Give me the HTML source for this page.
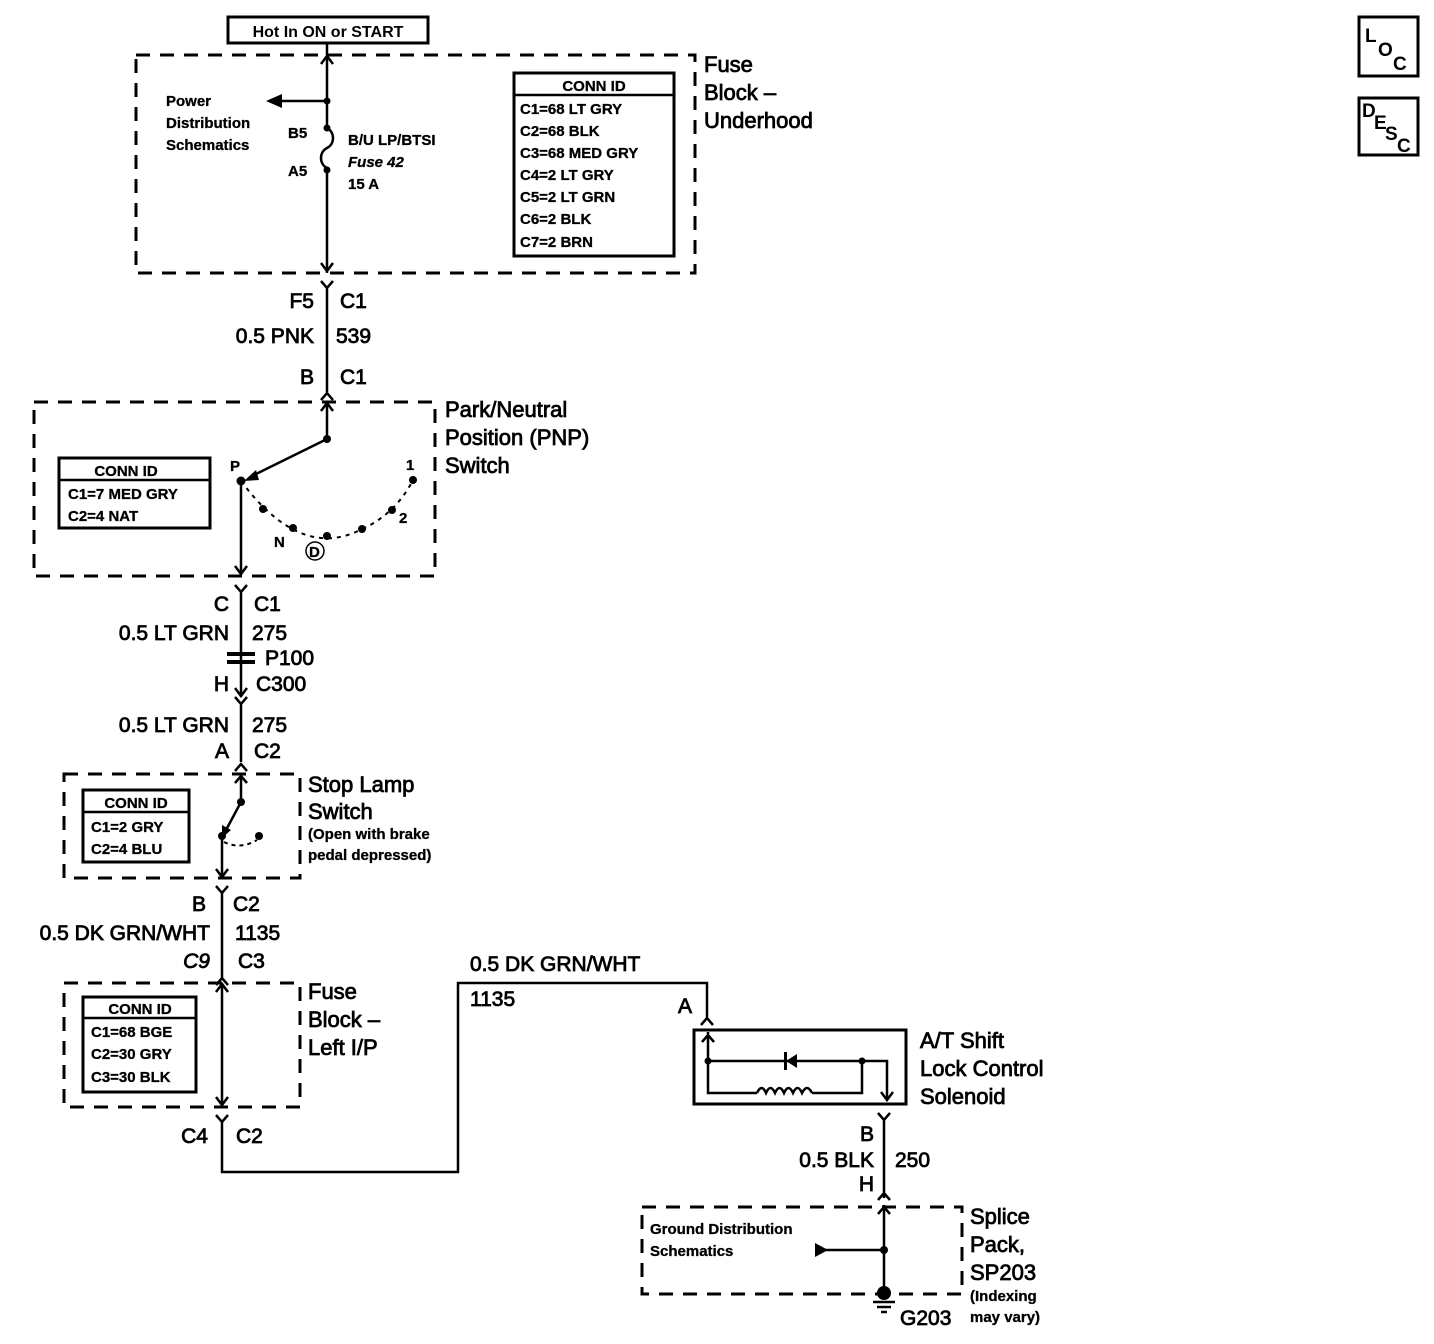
<!DOCTYPE html>
<html><head><meta charset="utf-8"><style>
html,body{margin:0;padding:0;background:#fff;}
svg{display:block;font-family:"Liberation Sans",Arial,sans-serif;}
.w{stroke:#000;stroke-width:2.5;fill:none;}
.d{stroke:#000;stroke-width:3;fill:none;stroke-dasharray:14 10;}
.b{stroke:#000;stroke-width:3;fill:#fff;}
.L{font-size:22px;fill:#000;stroke:#000;stroke-width:0.8;}
.M{font-size:21px;fill:#000;stroke:#000;stroke-width:0.8;}
.S{font-size:15px;font-weight:bold;fill:#000;stroke:#000;stroke-width:0.3;}
.T{font-size:16px;font-weight:bold;fill:#000;}
.G{font-size:19px;font-weight:bold;fill:#000;}
</style></head><body>
<svg width="1434" height="1344" viewBox="0 0 1434 1344" xmlns="http://www.w3.org/2000/svg">
<rect x="228" y="17" width="200" height="26" class="b"/>
<text x="328" y="37" class="T" text-anchor="middle">Hot In ON or START</text>

<rect x="136" y="55" width="559" height="218" class="d"/>
<path class="w" d="M327 43 V128 M327 170 V273"/>
<path class="w" d="M321 64 L327 56 L333 64 M321 263 L327 271 L333 263"/>
<path class="w" d="M327 128 c8 4 8 16 0 20 c-8 4 -8 16 0 20"/>
<circle cx="327" cy="101" r="3.5"/><circle cx="327" cy="128" r="3.5"/><circle cx="327" cy="170" r="3.5"/>
<path class="w" d="M327 101 H280"/><path d="M266 101 L282 94 L282 108 Z"/>
<text x="166" y="106" class="S">Power</text>
<text x="166" y="128" class="S">Distribution</text>
<text x="166" y="150" class="S">Schematics</text>
<text x="288" y="138" class="S">B5</text>
<text x="288" y="176" class="S">A5</text>
<text x="348" y="145" class="S">B/U LP/BTSI</text>
<text x="348" y="167" class="S" font-style="italic">Fuse 42</text>
<text x="348" y="189" class="S">15 A</text>
<rect x="514" y="73" width="160" height="183" class="b"/>
<line x1="514" y1="95" x2="674" y2="95" stroke="#000" stroke-width="2.5"/>
<text x="594" y="91" class="S" text-anchor="middle">CONN ID</text>
<text x="520" y="114" class="S">C1=68 LT GRY</text>
<text x="520" y="136" class="S">C2=68 BLK</text>
<text x="520" y="158" class="S">C3=68 MED GRY</text>
<text x="520" y="180" class="S">C4=2 LT GRY</text>
<text x="520" y="202" class="S">C5=2 LT GRN</text>
<text x="520" y="224" class="S">C6=2 BLK</text>
<text x="520" y="247" class="S">C7=2 BRN</text>
<text x="704" y="72" class="L">Fuse</text>
<text x="704" y="100" class="L">Block –</text>
<text x="704" y="128" class="L">Underhood</text>

<path class="w" d="M321 281 L327 288 L333 281 M327 288 V392 M321 400 L327 393 L333 400"/>
<text x="314" y="308" class="M" text-anchor="end">F5</text>
<text x="340" y="308" class="M">C1</text>
<text x="314" y="343" class="M" text-anchor="end">0.5 PNK</text>
<text x="336" y="343" class="M">539</text>
<text x="314" y="384" class="M" text-anchor="end">B</text>
<text x="340" y="384" class="M">C1</text>

<rect x="34" y="402" width="401" height="174" class="d"/>
<path class="w" d="M327 402 V439 M321 411 L327 403 L333 411"/>
<circle cx="327" cy="439" r="4"/>
<path class="w" d="M327 439 L252 476"/><path d="M244 481 L256 470 L259 480 Z"/>
<circle cx="241" cy="481" r="4.5"/>
<path class="w" d="M241 481 V575 M235 566 L241 574 L247 566"/>
<path fill="none" stroke="#000" stroke-width="2" stroke-dasharray="4 5" d="M241 481 Q300 560 360 530 Q395 515 413 480"/>
<circle cx="263" cy="509" r="4"/><circle cx="293" cy="528" r="4"/><circle cx="327" cy="536" r="4"/><circle cx="362" cy="529" r="4"/><circle cx="392" cy="510" r="4"/><circle cx="413" cy="480" r="4"/>
<text x="230" y="471" class="S">P</text>
<text x="406" y="470" class="S">1</text>
<text x="399" y="523" class="S">2</text>
<text x="274" y="547" class="S">N</text>
<text x="309" y="557" class="S">D</text><circle cx="315" cy="551" r="9" fill="none" stroke="#000" stroke-width="1.5"/>
<rect x="59" y="458" width="151" height="70" class="b"/>
<line x1="59" y1="480" x2="210" y2="480" stroke="#000" stroke-width="2.5"/>
<text x="126" y="476" class="S" text-anchor="middle">CONN ID</text>
<text x="68" y="499" class="S">C1=7 MED GRY</text>
<text x="68" y="521" class="S">C2=4 NAT</text>
<text x="445" y="417" class="L">Park/Neutral</text>
<text x="445" y="445" class="L">Position (PNP)</text>
<text x="445" y="473" class="L">Switch</text>

<path class="w" d="M235 585 L241 592 L247 585 M241 592 V695 M235 688 L241 696 L247 688 M235 697 L241 704 L247 697 M241 704 V762 M235 771 L241 764 L247 771"/>
<rect x="227" y="652" width="28" height="4" fill="#000"/><rect x="227" y="660" width="28" height="4" fill="#000"/>
<text x="229" y="611" class="M" text-anchor="end">C</text>
<text x="254" y="611" class="M">C1</text>
<text x="229" y="640" class="M" text-anchor="end">0.5 LT GRN</text>
<text x="252" y="640" class="M">275</text>
<text x="265" y="665" class="M">P100</text>
<text x="229" y="691" class="M" text-anchor="end">H</text>
<text x="256" y="691" class="M">C300</text>
<text x="229" y="732" class="M" text-anchor="end">0.5 LT GRN</text>
<text x="252" y="732" class="M">275</text>
<text x="229" y="758" class="M" text-anchor="end">A</text>
<text x="254" y="758" class="M">C2</text>

<rect x="64" y="774" width="236" height="104" class="d"/>
<path class="w" d="M241 774 V802 M235 783 L241 776 L247 783"/>
<circle cx="241" cy="802" r="4"/>
<path class="w" d="M241 802 L226 830"/><path d="M222 838 L222 825 L231 830 Z"/>
<circle cx="222" cy="836" r="4"/><circle cx="259" cy="836" r="4"/>
<path fill="none" stroke="#000" stroke-width="2" stroke-dasharray="4 4" d="M224 842 Q240 850 257 840"/>
<path class="w" d="M222 836 V877 M216 869 L222 877 L228 869"/>
<rect x="83" y="790" width="106" height="72" class="b"/>
<line x1="83" y1="812" x2="189" y2="812" stroke="#000" stroke-width="2.5"/>
<text x="136" y="808" class="S" text-anchor="middle">CONN ID</text>
<text x="91" y="832" class="S">C1=2 GRY</text>
<text x="91" y="854" class="S">C2=4 BLU</text>
<text x="308" y="792" class="L">Stop Lamp</text>
<text x="308" y="819" class="L">Switch</text>
<text x="308" y="839" class="S" font-size="14">(Open with brake</text>
<text x="308" y="860" class="S" font-size="14">pedal depressed)</text>

<path class="w" d="M216 886 L222 893 L228 886 M222 893 V978 M216 985 L222 978 L228 985"/>
<text x="206" y="911" class="M" text-anchor="end">B</text>
<text x="233" y="911" class="M">C2</text>
<text x="210" y="940" class="M" text-anchor="end">0.5 DK GRN/WHT</text>
<text x="235" y="940" class="M">1135</text>
<text x="210" y="968" class="M" text-anchor="end" font-style="italic">C9</text>
<text x="238" y="968" class="M">C3</text>

<rect x="64" y="983" width="236" height="124" class="d"/>
<path class="w" d="M222 983 V1106 M216 992 L222 984 L228 992 M216 1097 L222 1105 L228 1097"/>
<rect x="83" y="997" width="113" height="95" class="b"/>
<line x1="83" y1="1018" x2="196" y2="1018" stroke="#000" stroke-width="2.5"/>
<text x="140" y="1014" class="S" text-anchor="middle">CONN ID</text>
<text x="91" y="1037" class="S">C1=68 BGE</text>
<text x="91" y="1059" class="S">C2=30 GRY</text>
<text x="91" y="1082" class="S">C3=30 BLK</text>
<text x="308" y="999" class="L">Fuse</text>
<text x="308" y="1027" class="L">Block –</text>
<text x="308" y="1055" class="L">Left I/P</text>
<path class="w" d="M216 1115 L222 1122 L228 1115 M222 1122 V1172 H458 V983 H707 V1018 M701 1025 L707 1018 L713 1025"/>
<text x="208" y="1143" class="M" text-anchor="end">C4</text>
<text x="236" y="1143" class="M">C2</text>
<text x="470" y="971" class="M">0.5 DK GRN/WHT</text>
<text x="470" y="1006" class="M">1135</text>
<text x="692" y="1013" class="M" text-anchor="end">A</text>

<rect x="694" y="1030" width="212" height="74" fill="none" stroke="#000" stroke-width="3"/>
<path class="w" d="M708 1032 V1093 H757 M812 1093 H862 V1061 M708 1061 H887 V1100 M702 1042 L708 1035 L714 1042 M881 1092 L887 1100 L893 1092"/>
<path class="w" d="M757 1093 q4.5 -10 9 0 q4.5 -10 9 0 q4.5 -10 9 0 q4.5 -10 9 0 q4.5 -10 9 0 q5 -10 10 0"/>
<path d="M786 1061 L797 1054 L797 1068 Z"/><rect x="784" y="1052" width="3" height="18"/>
<circle cx="708" cy="1061" r="3.5"/><circle cx="862" cy="1061" r="3.5"/>
<text x="920" y="1048" class="L">A/T Shift</text>
<text x="920" y="1076" class="L">Lock Control</text>
<text x="920" y="1104" class="L">Solenoid</text>

<path class="w" d="M878 1113 L884 1120 L890 1113 M884 1120 V1198 M878 1200 L884 1193 L890 1200"/>
<text x="874" y="1141" class="M" text-anchor="end">B</text>
<text x="874" y="1167" class="M" text-anchor="end">0.5 BLK</text>
<text x="895" y="1167" class="M">250</text>
<text x="874" y="1191" class="M" text-anchor="end">H</text>

<rect x="642" y="1207" width="320" height="87" class="d"/>
<path class="w" d="M884 1205 V1292 M878 1214 L884 1207 L890 1214 M825 1250 H884"/>
<path d="M815 1243 L828 1250 L815 1257 Z"/>
<circle cx="884" cy="1250" r="4"/>
<circle cx="884" cy="1293" r="7"/>
<path class="w" d="M873 1302 H895 M877 1307 H891 M881 1312 H887"/>
<text x="650" y="1234" class="S">Ground Distribution</text>
<text x="650" y="1256" class="S">Schematics</text>
<text x="900" y="1325" class="M">G203</text>
<text x="970" y="1224" class="L">Splice</text>
<text x="970" y="1252" class="L">Pack,</text>
<text x="970" y="1280" class="L">SP203</text>
<text x="970" y="1301" class="S" font-size="14">(Indexing</text>
<text x="970" y="1322" class="S" font-size="14">may vary)</text>

<rect x="1359" y="17" width="59" height="59" fill="none" stroke="#000" stroke-width="3"/>
<text x="1365" y="42" class="G">L</text><text x="1378" y="56" class="G">O</text><text x="1393" y="70" class="G">C</text>
<rect x="1359" y="98" width="59" height="57" fill="none" stroke="#000" stroke-width="3"/>
<text x="1362" y="117" class="G">D</text><text x="1374" y="129" class="G">E</text><text x="1385" y="140" class="G">S</text><text x="1397" y="152" class="G">C</text>
</svg>
</body></html>
